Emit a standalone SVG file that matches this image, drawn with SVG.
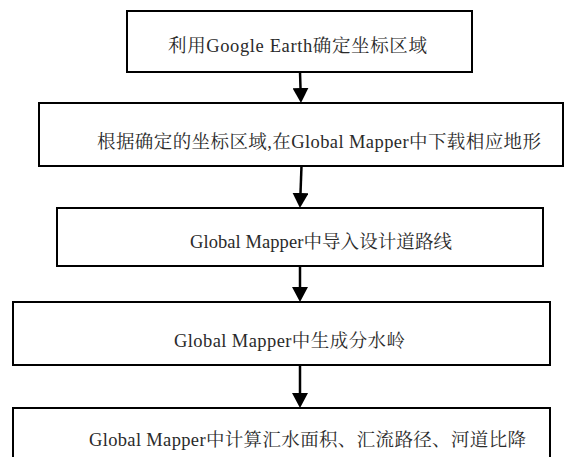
<svg xmlns="http://www.w3.org/2000/svg" width="587" height="457" viewBox="0 0 587 457">
<defs>
<style>
.box{fill:#fff;stroke:#000;stroke-width:2}
.lbl{font-family:"Liberation Serif","Noto Serif CJK SC","Noto Sans CJK SC",serif;font-size:18.5px;fill:#2a2a2a}
.con{stroke:#000;stroke-width:2.5;fill:none;marker-end:url(#ah)}
</style>
<marker id="ah" viewBox="0 0 15 16" refX="0" refY="8" markerWidth="15" markerHeight="16" markerUnits="userSpaceOnUse" orient="auto">
<path d="M0,0 L15,8 L0,16 Z" fill="#000"/>
</marker>
</defs>
<rect width="587" height="457" fill="#fff"/>
<g id="connectors">
<line class="con" x1="300" y1="72" x2="300.5" y2="88"/>
<line class="con" x1="301.5" y1="166" x2="300.5" y2="193"/>
<line class="con" x1="300" y1="266" x2="300" y2="287"/>
<line class="con" x1="300" y1="365" x2="300" y2="393"/>
</g>
<g id="n1">
<rect class="box" x="127" y="11" width="345" height="61"/>
<text class="lbl" x="168" y="52" textLength="259" lengthAdjust="spacing">利用Google Earth确定坐标区域</text>
</g>
<g id="n2">
<rect class="box" x="39" y="103" width="524" height="63"/>
<text class="lbl" x="97" y="148" textLength="444" lengthAdjust="spacing">根据确定的坐标区域,在Global Mapper中下载相应地形</text>
</g>
<g id="n3">
<rect class="box" x="57" y="208" width="486" height="58"/>
<text class="lbl" x="190" y="248" textLength="262" lengthAdjust="spacing">Global Mapper中导入设计道路线</text>
</g>
<g id="n4">
<rect class="box" x="13" y="302" width="537" height="63"/>
<text class="lbl" x="174" y="347" textLength="231" lengthAdjust="spacing">Global Mapper中生成分水岭</text>
</g>
<g id="n5">
<rect class="box" x="13" y="408" width="537" height="62"/>
<text class="lbl" x="89" y="446" textLength="437" lengthAdjust="spacing">Global Mapper中计算汇水面积、汇流路径、河道比降</text>
</g>
</svg>
